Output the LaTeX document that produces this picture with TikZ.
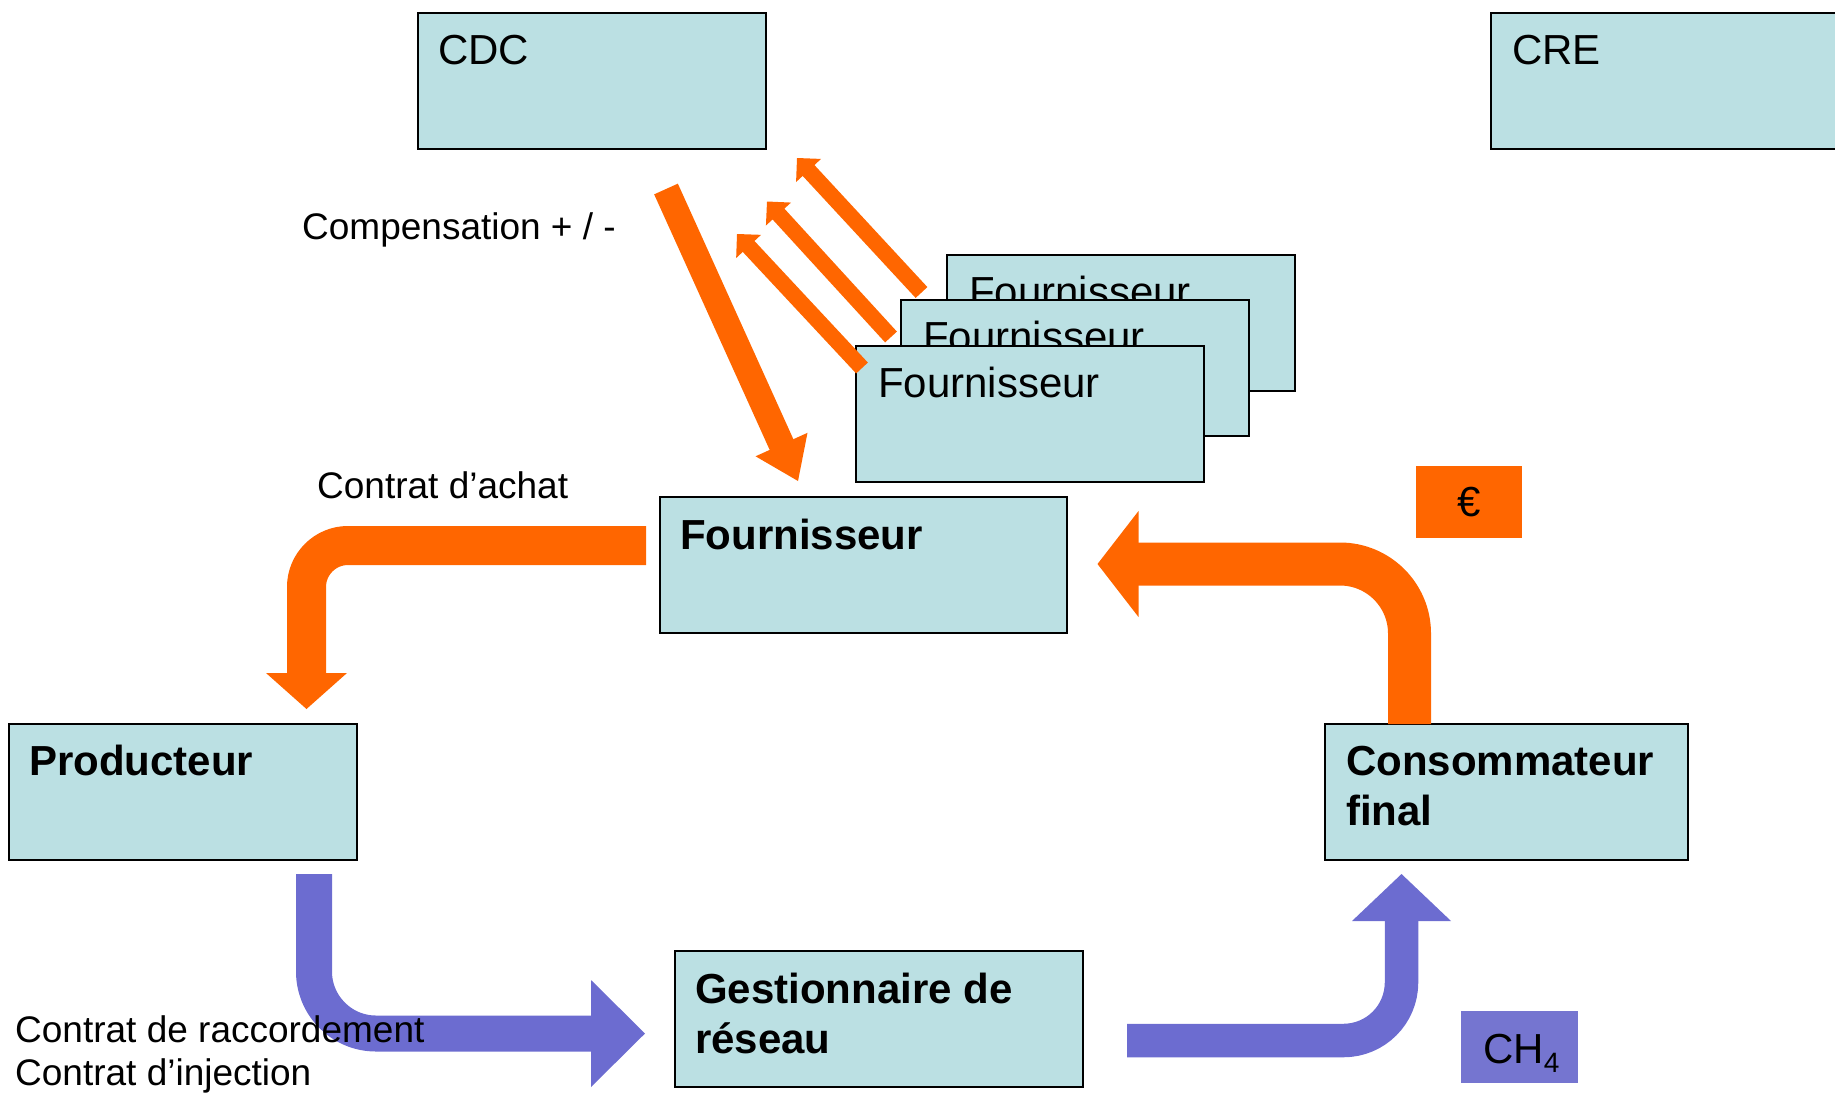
\documentclass[tikz,border=0pt]{standalone}
\usepackage{fontspec}
\setmainfont{Liberation Sans}
\usetikzlibrary{calc}
\definecolor{boxfill}{RGB}{187,224,227}
\definecolor{orng}{RGB}{255,102,0}
\definecolor{purp}{RGB}{108,108,208}
\definecolor{purpbox}{RGB}{117,117,208}
% straight block arrow: #1 colour, #2 shaft width, #3 head length, #4 head half width, #5 tail, #6 tip
\newcommand{\blockarrow}[6]{%
  \draw[#1, line width=#2] (#5) -- ($(#6)!#3*0.85!(#5)$);%
  \fill[#1] ($(#6)!#3!(#5)!#4!90:(#6)$) -- (#6) -- ($(#6)!#3!(#5)!#4!-90:(#6)$) -- cycle;}
\begin{document}
\begin{tikzpicture}[x=1pt,y=-1pt,
  box/.style={draw=black, line width=2pt, fill=boxfill, anchor=north west,
    inner sep=0pt, outer sep=0pt, minimum width=#1, minimum height=136pt},
  box/.default=348pt,
  big/.style={font=\fontsize{42}{50}\selectfont, anchor=base west, inner sep=0pt},
  lab/.style={font=\fontsize{37}{41}\selectfont, anchor=base west, inner sep=0pt},
  tag/.style={anchor=north west, inner sep=0pt, outer sep=0pt}]
\useasboundingbox (0,0) rectangle (1835,1093);

% top boxes
\node[box] (cdc) at (418,13) {};
\node[big] (tcdc) at ([shift={(20,51)}]cdc.north west) {CDC};
\node[box=360pt] (cre) at (1491,13) {};
\node[big] (tcre) at ([shift={(21,51)}]cre.north west) {CRE};

% stack of suppliers
\node[box] (fb) at (947,255) {};
\node[big] (tfb) at ([shift={(22,51)}]fb.north west) {Fournisseur};
\node[box] (fm) at (901,300) {};
\node[big] (tfm) at ([shift={(22,51)}]fm.north west) {Fournisseur};
\node[box] (ff) at (856,346) {};
\node[big] (tff) at ([shift={(22,51)}]ff.north west) {Fournisseur};

% main boxes
\node[box=407pt] (four) at (660,497) {};
\node[big] (tfour) at ([shift={(20,52)}]four.north west) {\bfseries Fournisseur};
\node[box] (prod) at (9,724) {};
\node[big] (tprod) at ([shift={(20,51)}]prod.north west) {\bfseries Producteur};
\node[box=363pt] (cons) at (1325,724) {};
\node[big] (tcons1) at ([shift={(21,51)}]cons.north west) {\bfseries Consommateur};
\node[big] (tcons2) at ([shift={(21,101)}]cons.north west) {\bfseries final};
\node[box=408pt] (gest) at (675,951) {};
\node[big] (tgest1) at ([shift={(20,52)}]gest.north west) {\bfseries Gestionnaire de};
\node[big] (tgest2) at ([shift={(20,102)}]gest.north west) {\bfseries réseau};

% tags
\node[tag, fill=orng, minimum width=106pt, minimum height=72pt,
  font=\fontsize{42}{50}\selectfont] (eur) at (1416,466) {€};
\node[tag, fill=purpbox, minimum width=117pt, minimum height=72pt] (ch4) at (1461,1011) {};
\node[big] (tch4) at ([shift={(22,52)}]ch4.north west)
  {CH{\fontsize{28}{28}\selectfont\raisebox{-9pt}{4}}};

% compensation arrows
\coordinate (d1) at (666,189);
\coordinate (d2) at (798,481);
\blockarrow{orng}{26pt}{40pt}{28.5pt}{d1}{d2}
\coordinate (ua1) at (921.5,292.5);
\coordinate (ua2) at (797,158);
\blockarrow{orng}{16pt}{17pt}{17pt}{ua1}{ua2}
\coordinate (ub1) at (891,337);
\coordinate (ub2) at (767,201.5);
\blockarrow{orng}{16pt}{17pt}{17pt}{ub1}{ub2}
\coordinate (uc1) at (862,368);
\coordinate (uc2) at (737,234);
\blockarrow{orng}{16pt}{17pt}{17pt}{uc1}{uc2}

% Contrat d'achat arrow (Fournisseur -> Producteur)
\coordinate (a1) at (646,545.5);
\coordinate (a2) at (306.5,709);
\draw[orng, line width=39pt, rounded corners=41.5pt] (a1) -- (a2 |- a1) -- ($(a2)+(0,-33)$);
\fill[orng] ($(a2)+(-40.5,-36)$) -- ($(a2)+(40.5,-36)$) -- (a2) -- cycle;

% payment arrow (Consommateur -> Fournisseur)
\coordinate (e1) at ([xshift=84.5pt]cons.north west);
\coordinate (e2) at (1097.5,564);
\draw[orng, line width=43pt, rounded corners=69.5pt] (e1) -- (e1 |- e2) -- ($(e2)+(38,0)$);
\fill[orng] ($(e2)+(41,-53)$) -- ($(e2)+(41,53)$) -- (e2) -- cycle;

% gas arrows
\coordinate (p1) at (314,874);
\coordinate (p2) at (645,1033.5);
\draw[purp, line width=36pt, rounded corners=62pt] (p1) -- (p1 |- p2) -- ($(p2)+(-51,0)$);
\fill[purp] ($(p2)+(-54,-53.5)$) -- ($(p2)+(-54,53.5)$) -- (p2) -- cycle;

\coordinate (q1) at (1127,1040.5);
\coordinate (q2) at (1401.5,874);
\draw[purp, line width=33.5pt, rounded corners=58pt] (q1) -- (q2 |- q1) -- ($(q2)+(0,44)$);
\fill[purp] ($(q2)+(-49.5,47)$) -- ($(q2)+(49.5,47)$) -- (q2) -- cycle;

% labels
\node[lab] (lcomp) at (302,239) {Compensation + / -};
\node[lab] (lachat) at (317,498) {Contrat d’achat};
\node[lab] (lracc) at (15,1042) {Contrat de raccordement};
\node[lab] (linj) at (15,1085) {Contrat d’injection};
\end{tikzpicture}
\end{document}
